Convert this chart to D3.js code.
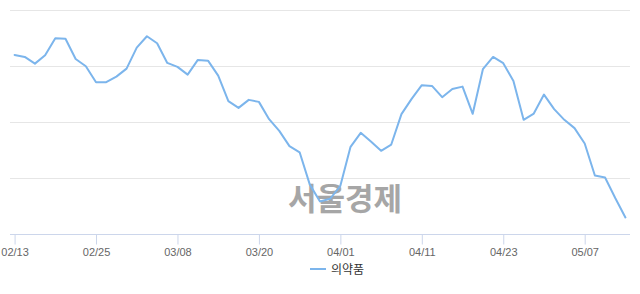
<!DOCTYPE html>
<html>
<head>
<meta charset="utf-8">
<script src="https://cdn.jsdelivr.net/npm/d3@7"></script>
<style>
  body { margin: 0; background: #fff; }
  #chart { width: 640px; height: 294px; }
</style>
</head>
<body>
<div id="chart"><svg width="640" height="294"></svg></div>
<script>
// trading days (2019), 의약품 index (relative units)
const dates = [
  "02/13","02/14","02/15","02/18","02/19","02/20","02/21","02/22","02/25","02/26","02/27","02/28",
  "03/04","03/05","03/06","03/07","03/08","03/11","03/12","03/13","03/14","03/15",
  "03/18","03/19","03/20","03/21","03/22","03/25","03/26","03/27","03/28","03/29",
  "04/01","04/02","04/03","04/04","04/05","04/08","04/09","04/10","04/11","04/12",
  "04/15","04/16","04/17","04/18","04/19","04/22","04/23","04/24","04/25","04/26",
  "04/29","04/30","05/02","05/03","05/07","05/08","05/09","05/10","05/13"
];
const values = [
  319.0, 315.5, 303.6, 318.5, 348.8, 348.0, 311.9, 298.9, 270.5, 270.5, 280.4, 294.7,
  332.0, 352.3, 339.9, 304.8, 297.7, 284.0, 310.2, 308.9, 282.2,
  236.7, 224.7, 239.0, 235.4, 204.6, 183.8, 156.6, 145.6, 88.0, 58.0, 62.8,
  85.9, 155.3, 180.3, 164.8, 148.2, 159.4, 213.5, 240.8, 265.1, 263.9,
  243.8, 258.5, 262.6, 214.1, 293.6, 315.5, 304.3, 272.8, 203.4, 214.6,
  248.4, 222.4, 203.4, 188.6, 161.2, 104.3, 100.7, 64.1, 29.5
];
const tickLabels = ["02/13","02/25","03/08","03/20","04/01","04/11","04/23","05/07"];
const yTicks = [0, 100, 200, 300, 400];
const seriesName = "의약품";

const svg = d3.select("#chart").select("svg");
const margin = {top: 9.5, left: 10, right: 10, bottom: 60};
const width = 640, height = 294;
const plotBottom = 234;

const xScale = d3.scalePoint()
    .domain(dates)
    .range([margin.left, width - margin.right])
    .padding(0.45);

const yScale = d3.scaleLinear()
    .domain([0, 400])
    .range([plotBottom, margin.top]);

// gridlines
svg.append("g")
    .selectAll("line")
    .data(yTicks.filter(d => d > 0))
    .join("line")
    .attr("x1", margin.left)
    .attr("x2", width - margin.right)
    .attr("y1", d => Math.round(yScale(d)) + 0.5)
    .attr("y2", d => Math.round(yScale(d)) + 0.5)
    .attr("stroke", "#e6e6e6")
    .attr("stroke-width", 1);

// x axis
const xAxis = svg.append("g")
    .attr("transform", `translate(0, ${plotBottom + 0.5})`)
    .call(d3.axisBottom(xScale)
        .tickValues(tickLabels)
        .tickSize(10)
        .tickSizeOuter(0)
        .tickPadding(4));
xAxis.select(".domain")
    .attr("d", `M${margin.left},0H${width - margin.right}`)
    .attr("stroke", "#ccd6eb");
xAxis.selectAll(".tick line").attr("stroke", "#ccd6eb");
xAxis.selectAll(".tick text")
    .attr("fill", "#666666")
    .style("font-family", "'Liberation Sans', Arial, sans-serif")
    .style("font-size", "11px");

// watermark (under the line)
svg.append("text")
    .attr("x", 345)
    .attr("y", 210)
    .attr("text-anchor", "middle")
    .style("font-family", "'Noto Sans CJK KR', sans-serif")
    .style("font-weight", "bold")
    .style("font-size", "31px")
    .attr("fill", "#a6a6a6")
    .text("서울경제");

// line
const line = d3.line()
    .x((d, i) => xScale(dates[i]))
    .y(d => yScale(d));

svg.append("path")
    .datum(values)
    .attr("d", line)
    .attr("fill", "none")
    .attr("stroke", "#7cb5ec")
    .attr("stroke-width", 2)
    .attr("stroke-linejoin", "round")
    .attr("stroke-linecap", "round");

// legend
const legend = svg.append("g").attr("transform", "translate(310, 269)");
legend.append("line")
    .attr("x1", 0).attr("x2", 16)
    .attr("y1", 0).attr("y2", 0)
    .attr("stroke", "#7cb5ec")
    .attr("stroke-width", 2);
legend.append("text")
    .attr("x", 21)
    .attr("y", 4.5)
    .attr("fill", "#333333")
    .style("font-family", "'Noto Sans CJK KR', sans-serif")
    .style("font-size", "12px")
    .text(seriesName);
</script>
</body>
</html>
